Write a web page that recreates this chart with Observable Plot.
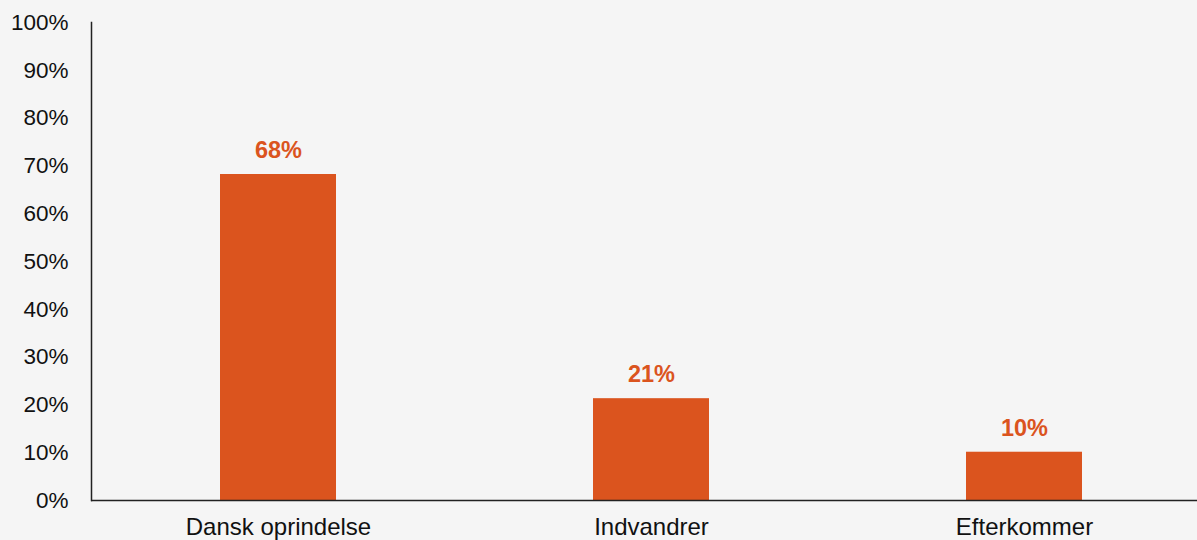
<!DOCTYPE html>
<html>
<head>
<meta charset="utf-8">
<script src="https://cdn.jsdelivr.net/npm/d3@7"></script>
<script src="https://cdn.jsdelivr.net/npm/@observablehq/plot@0.6"></script>
<style>
  html, body { margin: 0; padding: 0; background: #f5f5f5; overflow: hidden; }
  #chart svg { display: block; }
</style>
</head>
<body>
<div id="chart"></div>
<script>
const categories = ["Dansk oprindelse", "Indvandrer", "Efterkommer"];
const values = [68.2, 21.3, 10.1];
const labels = ["68%", "21%", "10%"];
const yTicks = [0, 10, 20, 30, 40, 50, 60, 70, 80, 90, 100];

const data = categories.map((c, i) => ({category: c, value: values[i], label: labels[i]}));
const orange = "#db541e";

const chart = Plot.plot({
  width: 1197,
  height: 540,
  marginLeft: 91,
  marginRight: 0,
  marginTop: 22,
  marginBottom: 40,
  style: {background: "#f5f5f5", fontFamily: "'Liberation Sans', Arial, sans-serif", fontSize: "22px", color: "#111", overflow: "visible"},
  x: {domain: categories, range: [91, 1210], paddingInner: 0.69, paddingOuter: 0.345, label: null},
  y: {domain: [0, 100], label: null},
  marks: [
    Plot.axisY({ticks: yTicks, tickFormat: d => d + "%", tickSize: 0, tickPadding: 23, fontSize: 22.5, label: null}),
    Plot.axisX({tickSize: 0, tickPadding: 17.5, fontSize: 24, label: null}),
    Plot.barY(data, {x: "category", y: "value", fill: orange}),
    Plot.text(data, {x: "category", y: "value", text: "label", dy: -24, fill: orange, fontWeight: "bold", fontSize: 23.5}),
    Plot.ruleY([0], {stroke: "#222", strokeWidth: 1.5}),
    Plot.frame({anchor: "left", stroke: "#222", strokeWidth: 1.5})
  ]
});
document.getElementById("chart").appendChild(chart);
</script>
</body>
</html>
